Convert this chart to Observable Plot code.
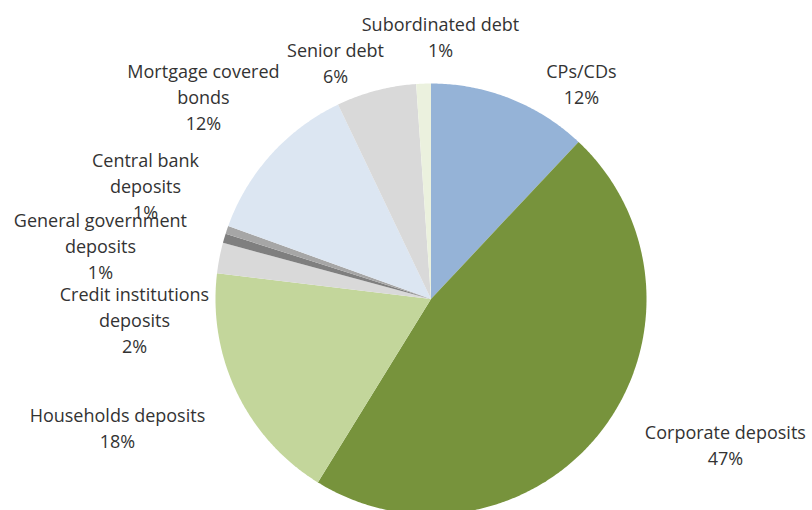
<!DOCTYPE html>
<html>
<head>
<meta charset="utf-8">
<script src="https://cdn.jsdelivr.net/npm/d3@7"></script>
<script src="https://cdn.jsdelivr.net/npm/@observablehq/plot@0.6"></script>
<style>
  html, body { margin: 0; padding: 0; background: #fff; }
  #chart { width: 812px; height: 510px; overflow: hidden; }
</style>
</head>
<body>
<div id="chart"></div>
<script>
// Data (clockwise from 12 o'clock)
const categories = [
  "CPs/CDs",
  "Corporate deposits",
  "Households deposits",
  "Credit institutions deposits",
  "General government deposits",
  "Central bank deposits",
  "Mortgage covered bonds",
  "Senior debt",
  "Subordinated debt"
];
const shares = [12.0, 46.8, 18.1, 2.3, 0.7, 0.6, 12.4, 6.0, 1.1];
const labelLines = [
  ["CPs/CDs"],
  ["Corporate deposits"],
  ["Households deposits"],
  ["Credit institutions", "deposits"],
  ["General government", "deposits"],
  ["Central bank", "deposits"],
  ["Mortgage covered", "bonds"],
  ["Senior debt"],
  ["Subordinated debt"]
];
const colors = ["#95B3D7", "#77933C", "#C3D69B", "#D9D9D9", "#7F7F7F", "#A6A6A6", "#DCE6F2", "#D9D9D9", "#EBF1DE"];

// Layout (in units of pie radius, centre at 0,0)
const labelAnchors = [
  [0.698, 1.002],
  [1.366, -0.670],
  [-1.455, -0.592],
  [-1.376, -0.090],
  [-1.534, 0.253],
  [-1.325, 0.531],
  [-1.056, 0.944],
  [-0.443, 1.100],
  [0.044, 1.223]
];

const W = 812, H = 510, CX = 430.5, CY = 298.5, R = 215.5;

const total = d3.sum(shares);
const slices = [];
let acc = 0;
categories.forEach((name, i) => {
  const a0 = acc / total * 2 * Math.PI;
  acc += shares[i];
  const a1 = acc / total * 2 * Math.PI;
  const n = Math.max(2, Math.ceil((a1 - a0) / (Math.PI / 360)));
  slices.push({name, x: 0, y: 0});
  for (let k = 0; k <= n; k++) {
    const a = a0 + (a1 - a0) * k / n;
    slices.push({name, x: Math.sin(a), y: Math.cos(a)});
  }
  slices.push({name, x: 0, y: 0});
});

const labels = categories.map((name, i) => ({
  name,
  x: labelAnchors[i][0],
  y: labelAnchors[i][1],
  text: [...labelLines[i], Math.round(shares[i] / total * 100) + "%"].join("\n")
}));

const chart = Plot.plot({
  width: W,
  height: H,
  margin: 0,
  x: {domain: [-CX / R, (W - CX) / R], axis: null},
  y: {domain: [-(H - CY) / R, CY / R], axis: null},
  color: {domain: categories, range: colors},
  style: {background: "#fff"},
  marks: [
    Plot.line(slices, {x: "x", y: "y", z: "name", fill: "name", stroke: "none", curve: "linear-closed"}),
    Plot.text(labels, {
      x: "x", y: "y", text: "text",
      fontFamily: "Open Sans", fontSize: 18, lineHeight: 1.45,
      fill: "#333", textAnchor: "middle", lineAnchor: "middle"
    })
  ]
});
document.getElementById("chart").appendChild(chart);
</script>
</body>
</html>
